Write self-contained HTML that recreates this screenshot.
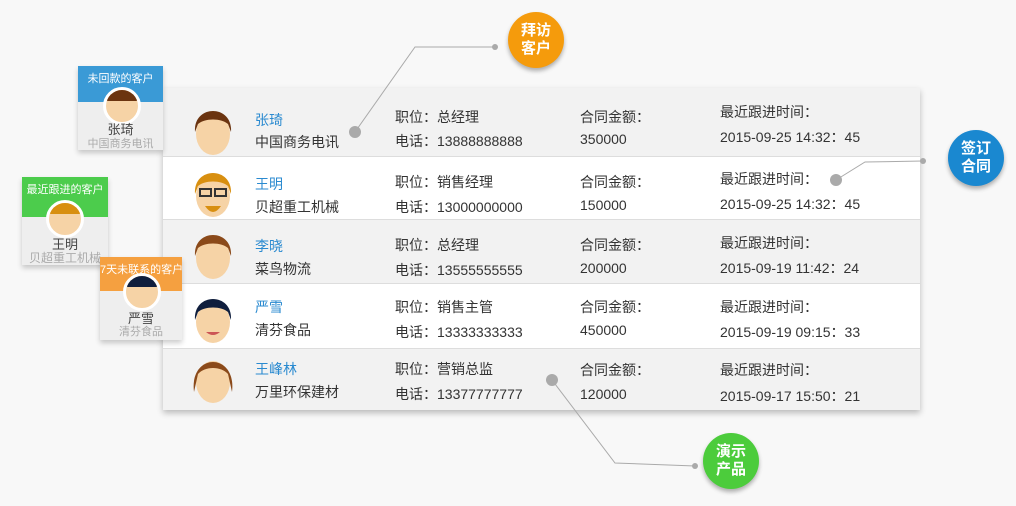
<!DOCTYPE html>
<html><head><meta charset="utf-8"><style>
body{margin:0;width:1016px;height:506px;background:#f8f8f8;position:relative;overflow:hidden;font-family:"Liberation Sans","Noto Sans CJK SC",sans-serif;}
.t{position:absolute;left:163px;top:88px;width:757px;height:322px;box-shadow:0 3px 6px rgba(0,0,0,.25);background:#fff}
.r{position:absolute;left:0;width:757px;border-bottom:1px solid #ddd}
.g{background:#f2f2f2}
.a{position:absolute;font-size:14px;color:#333;white-space:nowrap}
.n{color:#2a8ad0}
.card{position:absolute;background:#eee;box-shadow:0 3px 5px rgba(0,0,0,.2);text-align:center}
.card .h{color:#fff;font-size:11px;padding-top:4px;box-sizing:border-box}
.av{position:absolute;width:32px;height:32px;border-radius:50%;background:#f6d3a6;border:3px solid #fff;overflow:hidden}
.av i{position:absolute;left:0;top:0;width:32px;height:11px;border-radius:16px 16px 4px 4px}
.bub{position:absolute;width:56px;height:56px;border-radius:50%;color:#fff;font-weight:bold;font-size:15px;line-height:18px;text-align:center;display:flex;align-items:center;justify-content:center;box-shadow:0 3px 4px rgba(0,0,0,.3)}
</style></head><body>
<div class="t">
<div class="r g" style="top:0;height:68px"></div>
<div class="r" style="top:69px;height:62px"></div>
<div class="r g" style="top:132px;height:63px"></div>
<div class="r" style="top:196px;height:64px"></div>
<div class="r g" style="top:261px;height:61px;border:0"></div>
</div>
<svg width="1016" height="506" style="position:absolute;left:0;top:0">
<defs><g id="f"><ellipse cx="0" cy="4" rx="17" ry="21" fill="#f6d3a6"/></g></defs>
<g transform="translate(213,130)"><use href="#f"/><path d="M-18,2 C-20,-26 20,-26 18,2 L15,-6 C8,-12 -8,-12 -15,-6Z" fill="#6b3410"/></g>
<g transform="translate(213,192)"><use href="#f"/><path d="M-18,2 C-20,-26 20,-26 18,2 L15,-6 C8,-12 -8,-12 -15,-6Z" fill="#d88f10"/><rect x="-13" y="-3" width="11" height="7" fill="none" stroke="#333" stroke-width="2"/><rect x="2" y="-3" width="11" height="7" fill="none" stroke="#333" stroke-width="2"/><path d="M-8,14 Q0,26 8,14Z" fill="#d88f10"/></g>
<g transform="translate(213,254)"><use href="#f"/><path d="M-18,2 C-20,-26 20,-26 18,2 L15,-6 C8,-12 -8,-12 -15,-6Z" fill="#8b4a1a"/></g>
<g transform="translate(213,318)"><use href="#f"/><path d="M-18,2 C-20,-26 20,-26 18,2 L15,-6 C8,-12 -8,-12 -15,-6Z" fill="#0f1e3d"/><path d="M-7,14 Q0,20 7,14Z" fill="#c55"/></g>
<g transform="translate(213,378)"><use href="#f"/><path d="M-19,14 C-24,-26 24,-26 19,14 L15,-4 C8,-12 -8,-12 -15,-4Z" fill="#8b4a1a"/></g>
<polyline points="355,132 415,47 495,47" fill="none" stroke="#aaa"/><circle cx="355" cy="132" r="6" fill="#aaa"/><circle cx="495" cy="47" r="3" fill="#aaa"/>
<polyline points="836,180 865,162 923,161" fill="none" stroke="#aaa"/><circle cx="836" cy="180" r="6" fill="#aaa"/><circle cx="923" cy="161" r="3" fill="#aaa"/>
<polyline points="552,380 615,463 695,466" fill="none" stroke="#aaa"/><circle cx="552" cy="380" r="6" fill="#aaa"/><circle cx="695" cy="466" r="3" fill="#aaa"/>
</svg>
<div class="a n" style="left:255px;top:110px">张琦</div><div class="a" style="left:255px;top:132px">中国商务电讯</div>
<div class="a" style="left:395px;top:107px">职位：总经理</div><div class="a" style="left:395px;top:131px">电话：13888888888</div>
<div class="a" style="left:580px;top:107px">合同金额：</div><div class="a" style="left:580px;top:131px">350000</div>
<div class="a" style="left:720px;top:102px">最近跟进时间：</div><div class="a" style="left:720px;top:127px">2015-09-25 14:32：45</div>
<div class="a n" style="left:255px;top:174px">王明</div><div class="a" style="left:255px;top:197px">贝超重工机械</div>
<div class="a" style="left:395px;top:172px">职位：销售经理</div><div class="a" style="left:395px;top:197px">电话：13000000000</div>
<div class="a" style="left:580px;top:172px">合同金额：</div><div class="a" style="left:580px;top:197px">150000</div>
<div class="a" style="left:720px;top:169px">最近跟进时间：</div><div class="a" style="left:720px;top:194px">2015-09-25 14:32：45</div>
<div class="a n" style="left:255px;top:236px">李晓</div><div class="a" style="left:255px;top:259px">菜鸟物流</div>
<div class="a" style="left:395px;top:235px">职位：总经理</div><div class="a" style="left:395px;top:260px">电话：13555555555</div>
<div class="a" style="left:580px;top:235px">合同金额：</div><div class="a" style="left:580px;top:260px">200000</div>
<div class="a" style="left:720px;top:233px">最近跟进时间：</div><div class="a" style="left:720px;top:258px">2015-09-19 11:42：24</div>
<div class="a n" style="left:255px;top:297px">严雪</div><div class="a" style="left:255px;top:320px">清芬食品</div>
<div class="a" style="left:395px;top:297px">职位：销售主管</div><div class="a" style="left:395px;top:322px">电话：13333333333</div>
<div class="a" style="left:580px;top:297px">合同金额：</div><div class="a" style="left:580px;top:322px">450000</div>
<div class="a" style="left:720px;top:297px">最近跟进时间：</div><div class="a" style="left:720px;top:322px">2015-09-19 09:15：33</div>
<div class="a n" style="left:255px;top:359px">王峰林</div><div class="a" style="left:255px;top:382px">万里环保建材</div>
<div class="a" style="left:395px;top:359px">职位：营销总监</div><div class="a" style="left:395px;top:384px">电话：13377777777</div>
<div class="a" style="left:580px;top:360px">合同金额：</div><div class="a" style="left:580px;top:386px">120000</div>
<div class="a" style="left:720px;top:360px">最近跟进时间：</div><div class="a" style="left:720px;top:386px">2015-09-17 15:50：21</div>
<div class="card" style="left:78px;top:66px;width:85px;height:84px"><div style="background:#3a9ad6;height:36px" class="h">未回款的客户</div>
<div class="av" style="left:25px;top:21px"><i style="background:#6b3410"></i></div>
<div style="position:absolute;top:53px;width:100%;font-size:13px;color:#444">张琦</div><div style="position:absolute;top:69px;width:100%;font-size:11px;color:#aaa">中国商务电讯</div></div>
<div class="card" style="left:22px;top:177px;width:86px;height:88px"><div style="background:#4ccc4c;height:40px" class="h">最近跟进的客户</div>
<div class="av" style="left:24px;top:23px"><i style="background:#d88f10"></i></div>
<div style="position:absolute;top:57px;width:100%;font-size:13px;color:#444">王明</div><div style="position:absolute;top:72px;width:100%;font-size:12px;color:#aaa;white-space:nowrap">贝超重工机械</div></div>
<div class="card" style="left:100px;top:257px;width:82px;height:83px"><div style="background:#f5a040;height:34px;overflow:hidden;white-space:nowrap" class="h">7天未联系的客户</div>
<div class="av" style="left:23px;top:16px"><i style="background:#0f1e3d"></i></div>
<div style="position:absolute;top:51px;width:100%;font-size:13px;color:#444">严雪</div><div style="position:absolute;top:66px;width:100%;font-size:11px;color:#aaa">清芬食品</div></div>
<div class="bub" style="left:508px;top:12px;background:#f59b0c">拜访<br>客户</div>
<div class="bub" style="left:948px;top:130px;background:#1a88d0">签订<br>合同</div>
<div class="bub" style="left:703px;top:433px;background:#4ccc3c">演示<br>产品</div>
</body></html>
